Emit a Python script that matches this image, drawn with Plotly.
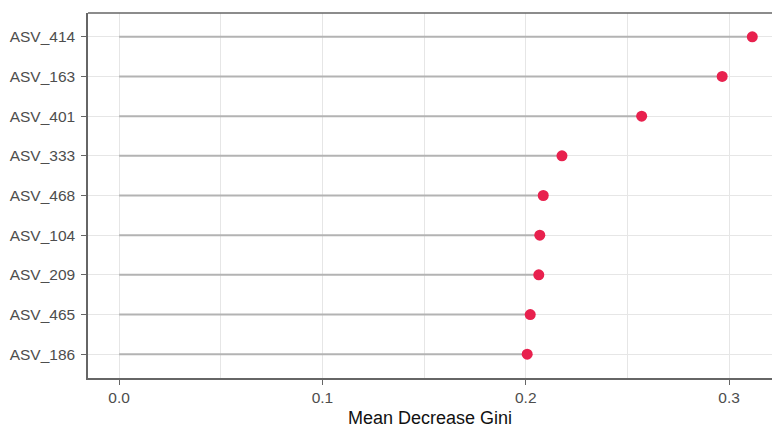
import plotly.graph_objects as go

# Feature importance from the random forest (top ASVs)
asv_labels = ["ASV_186", "ASV_465", "ASV_209", "ASV_104", "ASV_468",
              "ASV_333", "ASV_401", "ASV_163", "ASV_414"]
gini_values = [0.2007, 0.2022, 0.2064, 0.2069, 0.2086,
               0.2178, 0.2570, 0.2966, 0.3114]
x_ticks = [0.0, 0.1, 0.2, 0.3]
x_tick_text = ["0.0", "0.1", "0.2", "0.3"]

FONT = "Liberation Sans, Arial, sans-serif"
GRID = "#e6e6e6"
BORDER = "#666666"

# Stems from zero to each value
seg_x, seg_y = [], []
for lab, v in zip(asv_labels, gini_values):
    seg_x += [0, v, None]
    seg_y += [lab, lab, None]

fig = go.Figure()
fig.add_trace(go.Scatter(
    x=seg_x, y=seg_y, mode="lines",
    line=dict(color="#b3b3b3", width=2),
    hoverinfo="skip", showlegend=False,
))
fig.add_trace(go.Scatter(
    x=gini_values, y=asv_labels, mode="markers",
    marker=dict(color="#e8214e", size=11, line=dict(width=0)),
    showlegend=False,
))

fig.update_layout(
    width=772, height=428,
    margin=dict(l=88, r=0, t=13, b=50),
    paper_bgcolor="white", plot_bgcolor="white",
    font=dict(family=FONT, color="#4d4d4d", size=15.5),
    xaxis=dict(
        range=[-0.0153, 0.3211],
        tickvals=x_ticks, ticktext=x_tick_text,
        showgrid=True, gridcolor=GRID, gridwidth=1.3,
        minor=dict(dtick=0.05, tick0=0, showgrid=True, gridcolor=GRID, gridwidth=0.9),
        zeroline=False,
        showline=True, linecolor=BORDER, linewidth=1.5,
        ticks="outside", ticklen=5, tickcolor=BORDER, tickwidth=1.2,
        tickfont=dict(size=15.5, color="#4d4d4d"),
        title=dict(text="Mean Decrease Gini", font=dict(size=18, color="#111111"), standoff=7),
    ),
    yaxis=dict(
        type="category", categoryorder="array", categoryarray=asv_labels,
        range=[-0.6, len(asv_labels) - 0.4],
        showgrid=True, gridcolor=GRID, gridwidth=1.3,
        zeroline=False,
        showline=True, linecolor=BORDER, linewidth=1.5,
        ticks="outside", ticklen=5, tickcolor=BORDER, tickwidth=1.2,
        tickfont=dict(size=15.5, color="#4d4d4d"),
        ticklabelstandoff=3,
    ),
    shapes=[dict(type="line", xref="paper", yref="paper", x0=0, x1=1, y0=1, y1=1,
                 line=dict(color=BORDER, width=1.5))],
)

fig.write_html("out.html")
